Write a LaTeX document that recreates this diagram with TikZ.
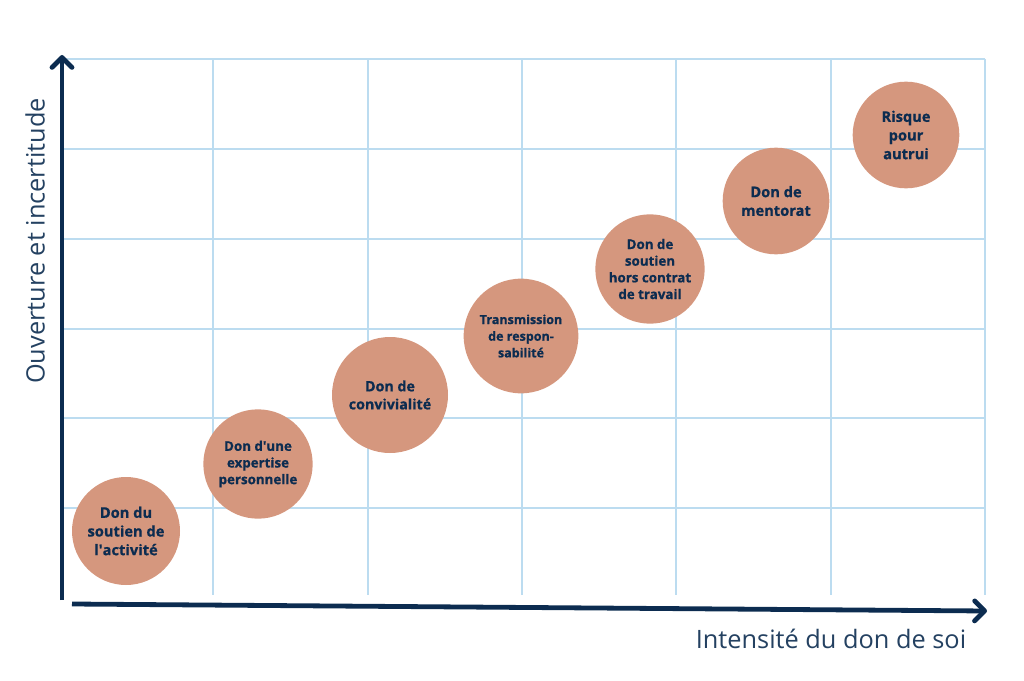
\documentclass[tikz,border=0pt]{standalone}
\usepackage{fontspec}
\setmainfont{Open Sans}[BoldFeatures={FakeBold=0.8}]
\usetikzlibrary{arrows.meta}
\definecolor{navy}{HTML}{0C2C50}
\definecolor{salmon}{HTML}{D5977E}
\definecolor{gridblue}{HTML}{BCDCF0}

\tikzset{
  bubble/.style={circle, fill=salmon, text=navy, align=center, inner sep=0pt},
  axislabel/.style={text=navy!90, font=\fontsize{19}{22}\selectfont}
}

\begin{document}
\begin{tikzpicture}[x=0.75pt, y=-0.75pt]
    \useasboundingbox (0,0) rectangle (1024,681);

    % Background grid
    \foreach \gx in {213,368,522,676,831,985}
        \draw[gridblue, line width=1.5pt] (\gx,59) -- (\gx,595);
    \foreach \gy in {59,149,239,329,418,508}
        \draw[gridblue, line width=1.5pt] (62,\gy) -- (985,\gy);

    % Bubbles, from the weakest to the strongest gift of self
    \node[bubble, minimum size=81pt, font=\bfseries\fontsize{11}{14}\selectfont] (activite) at (126,531)
        {Don du\\soutien de\\l\textquotesingle activité};
    \node[bubble, minimum size=82pt, font=\bfseries\fontsize{10}{12.5}\selectfont] (expertise) at (258,464)
        {Don d\textquotesingle une\\expertise\\personnelle};
    \node[bubble, minimum size=87pt, font=\bfseries\fontsize{10.7}{13.5}\selectfont] (convivialite) at (390,395)
        {Don de\\convivialité};
    \node[bubble, minimum size=86pt, font=\bfseries\fontsize{9.4}{12.5}\selectfont] (transmission) at (521,336)
        {Transmission\\de respon-\\sabilité};
    \node[bubble, minimum size=82pt, font=\bfseries\fontsize{10}{12.5}\selectfont] (horscontrat) at (650,269)
        {Don de\\soutien\\hors contrat\\de travail};
    \node[bubble, minimum size=80pt, font=\bfseries\fontsize{11}{14}\selectfont] (mentorat) at (776,201)
        {Don de\\mentorat};
    \node[bubble, minimum size=80pt, font=\bfseries\fontsize{11}{14}\selectfont] (risque) at (906,135)
        {Risque\\pour\\autrui};

    % Axes
    \coordinate (origin) at (62,600);
    \coordinate (ytop) at (62,55);
    \coordinate (xstart) at (72,604);
    \coordinate (xend) at (987,611);
    \draw[navy, line width=3.6pt, -{Straight Barb[length=7.5pt,width=15pt,round]}] (origin) -- (ytop);
    \draw[navy, line width=3.6pt, -{Straight Barb[length=7.5pt,width=15pt,round]}] (xstart) -- (xend);

    % Axis titles
    \node[axislabel] (xtitle) at (831,639) {Intensité du don de soi};
    \node[axislabel, rotate=90] (ytitle) at (35,241) {Ouverture et incertitude};
\end{tikzpicture}
\end{document}
